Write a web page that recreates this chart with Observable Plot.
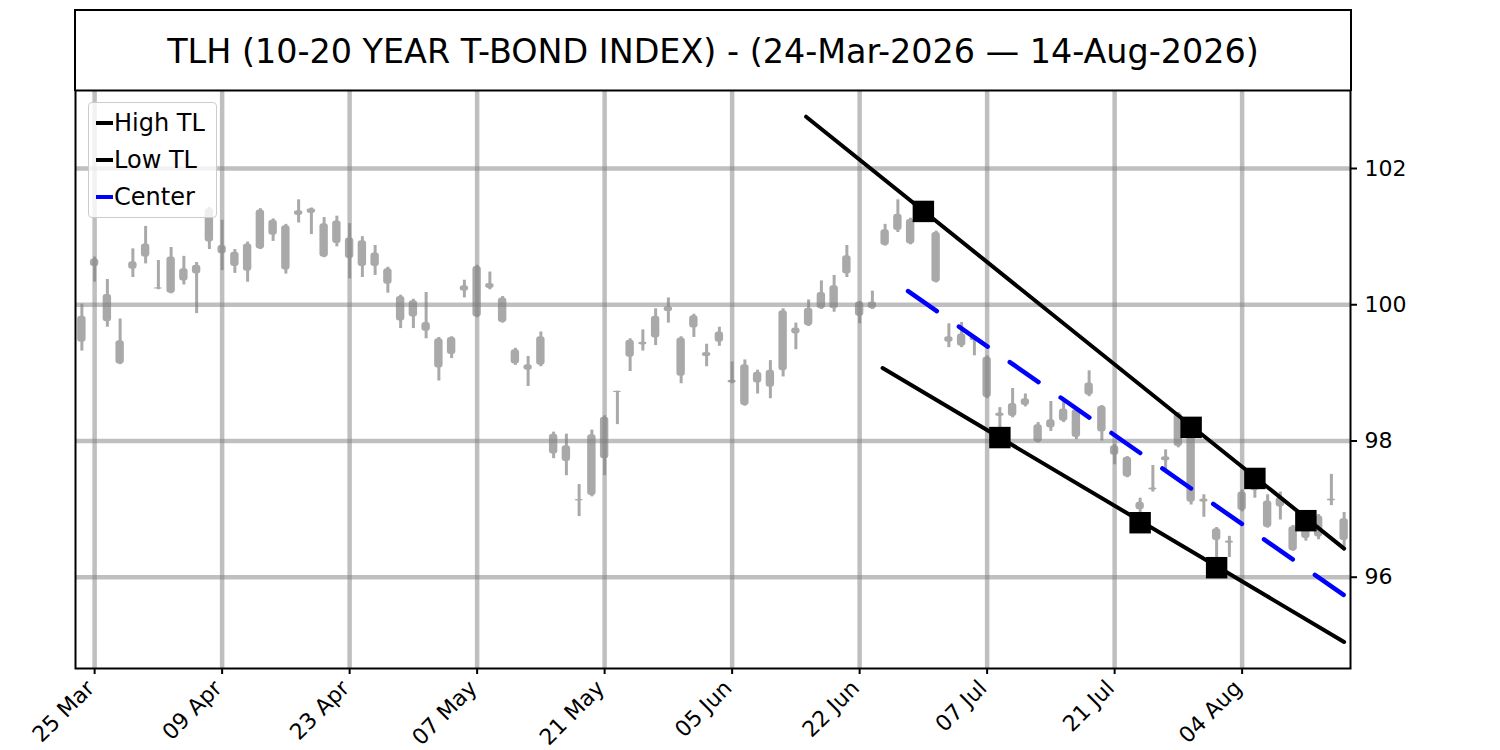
<!DOCTYPE html>
<html>
<head>
<meta charset="utf-8">
<script src="https://cdn.jsdelivr.net/npm/d3@7"></script>
<script src="https://cdn.jsdelivr.net/npm/@observablehq/plot@0.6"></script>
<style>
  html, body { margin: 0; padding: 0; background: white; }
  #wrap { position: relative; width: 1500px; height: 750px; font-family: "DejaVu Sans", sans-serif; }
  #chart { position: absolute; left: 0; top: 0; }
  #title {
    position: absolute; left: 74px; top: 9px; width: 1278px; height: 82px;
    box-sizing: border-box; border: 2px solid black; border-bottom: none;
    display: flex; align-items: center; justify-content: center;
    font-size: 33.4px; color: black; white-space: nowrap;
  }
  #legend {
    position: absolute; left: 88px; top: 102px; width: 129px; height: 116px;
    box-sizing: border-box; border: 1.5px solid #cccccc; border-radius: 4px;
    background: rgba(255,255,255,0.8);
  }
  .item { position: absolute; left: 0; height: 30px; display: flex; align-items: center; font-size: 24px; color: black; white-space: nowrap; }
  .handle { width: 17px; height: 4px; margin-left: 7px; margin-right: 1px; }
</style>
</head>
<body>
<div id="wrap">
  <div id="chart"></div>
  <div id="title"></div>
  <div id="legend"></div>
</div>
<script>
// ---- data ----
const titleText = "TLH (10-20 YEAR T-BOND INDEX) - (24-Mar-2026 \u2014 14-Aug-2026)";

const dates = [
  "2026-03-24","2026-03-25","2026-03-26","2026-03-27","2026-03-30","2026-03-31",
  "2026-04-01","2026-04-02","2026-04-06","2026-04-07","2026-04-08","2026-04-09","2026-04-10",
  "2026-04-13","2026-04-14","2026-04-15","2026-04-16","2026-04-17","2026-04-20","2026-04-21",
  "2026-04-22","2026-04-23","2026-04-24","2026-04-27","2026-04-28","2026-04-29","2026-04-30",
  "2026-05-01","2026-05-04","2026-05-05","2026-05-06","2026-05-07","2026-05-08","2026-05-11",
  "2026-05-12","2026-05-13","2026-05-14","2026-05-15","2026-05-18","2026-05-19","2026-05-20",
  "2026-05-21","2026-05-22","2026-05-26","2026-05-27","2026-05-28","2026-05-29",
  "2026-06-01","2026-06-02","2026-06-03","2026-06-04","2026-06-05","2026-06-08","2026-06-09",
  "2026-06-10","2026-06-11","2026-06-12","2026-06-15","2026-06-16","2026-06-17","2026-06-18",
  "2026-06-22","2026-06-23","2026-06-24","2026-06-25","2026-06-26","2026-06-29","2026-06-30",
  "2026-07-01","2026-07-02","2026-07-06","2026-07-07","2026-07-08","2026-07-09","2026-07-10",
  "2026-07-13","2026-07-14","2026-07-15","2026-07-16","2026-07-17","2026-07-20","2026-07-21",
  "2026-07-22","2026-07-23","2026-07-24","2026-07-27","2026-07-28","2026-07-29","2026-07-30",
  "2026-07-31","2026-08-03","2026-08-04","2026-08-05","2026-08-06","2026-08-07","2026-08-10",
  "2026-08-11","2026-08-12","2026-08-13","2026-08-14"
];

const open = [
  99.83,100.67,100.15,99.47,100.63,100.89,100.25,100.70,100.53,100.58,
  101.41,100.87,100.77,100.89,101.39,101.24,101.16,101.38,101.41,101.19,
  101.23,100.98,100.94,100.76,100.53,100.12,100.06,99.74,99.50,99.52,
  100.28,100.56,100.31,100.10,99.34,99.12,99.53,98.10,97.93,97.14,
  98.09,98.35,98.73,99.48,99.45,99.83,99.97,99.51,99.84,99.30,
  99.60,98.89,99.12,99.01,99.04,99.91,99.66,99.95,100.18,100.28,
  100.72,100.04,100.04,101.10,101.33,101.25,101.33,101.06,99.53,99.57,
  99.53,99.23,98.41,98.55,98.62,98.24,98.31,98.47,98.46,98.85,
  98.51,97.93,97.76,97.10,97.31,97.77,98.40,98.15,97.15,96.71,
  96.53,97.25,97.39,97.12,97.17,96.74,96.76,96.90,97.15,96.86
];
const close = [
  99.45,100.56,99.75,99.13,100.52,100.70,100.23,100.17,100.35,100.45,
  100.92,100.75,100.56,100.49,100.82,101.02,100.51,101.31,101.34,100.70,
  100.90,100.68,100.56,100.56,100.30,99.76,99.82,99.61,99.07,99.27,
  100.20,99.82,100.24,99.74,99.13,99.04,99.11,97.81,97.70,97.12,
  97.20,97.74,98.71,99.23,99.41,99.51,99.90,98.95,99.66,99.24,
  99.45,98.85,98.52,98.85,98.79,99.03,99.57,99.69,99.94,99.94,
  100.45,99.83,99.94,100.87,101.09,100.89,101.25,100.33,99.45,99.39,
  99.47,98.64,98.36,98.36,98.52,97.98,98.19,98.29,98.05,98.67,
  98.13,97.79,97.47,96.99,97.28,97.71,97.92,97.10,97.10,96.54,
  96.50,96.98,97.27,96.73,97.03,96.39,96.57,96.59,97.12,96.54
];
const high = [
  100.01,100.70,100.37,99.79,100.82,101.15,100.65,100.84,100.71,100.62,
  101.43,101.24,100.81,100.92,101.41,101.26,101.18,101.54,101.42,101.28,
  101.30,101.19,101.00,100.87,100.55,100.14,100.08,100.18,99.52,99.53,
  100.36,100.58,100.48,100.12,99.36,99.24,99.60,98.13,98.10,97.36,
  98.16,98.37,98.73,99.50,99.63,99.94,100.10,99.53,99.86,99.42,
  99.67,99.16,99.19,99.04,99.18,99.94,99.73,100.07,100.35,100.43,
  100.87,100.05,100.20,101.18,101.54,101.27,101.37,101.08,99.72,99.74,
  99.53,99.25,98.49,98.77,98.69,98.27,98.58,98.60,98.47,99.03,
  98.52,97.95,97.77,97.16,97.64,97.87,98.42,98.20,97.21,96.73,
  96.60,97.28,97.45,97.21,97.25,96.76,96.83,96.92,97.51,96.95
];
const low = [
  99.32,100.33,99.67,99.12,100.40,100.60,100.22,100.16,100.29,99.87,
  100.81,100.50,100.46,100.33,100.81,100.93,100.45,101.20,101.03,100.69,
  100.85,100.38,100.40,100.43,100.17,99.65,99.65,99.50,98.88,99.21,
  100.10,99.81,100.22,99.73,99.11,98.80,99.09,97.74,97.49,96.89,
  97.18,97.49,98.24,99.02,99.32,99.40,99.73,98.84,99.52,99.09,
  99.39,98.84,98.51,98.69,98.62,98.94,99.34,99.68,99.93,99.89,
  100.40,99.72,99.93,100.86,101.06,100.88,101.22,100.32,99.37,99.37,
  99.25,98.62,98.05,98.34,98.50,97.97,98.14,98.27,98.02,98.65,
  98.00,97.65,97.46,96.80,97.25,97.57,97.90,97.06,96.88,96.14,
  96.29,96.96,97.16,96.72,96.84,96.38,96.53,96.55,97.05,96.44
];

// x tick dates and labels (every 10 trading days)
const tickDates  = ["2026-03-25","2026-04-09","2026-04-23","2026-05-07","2026-05-21","2026-06-05","2026-06-22","2026-07-07","2026-07-21","2026-08-04"];
const tickLabels = ["25 Mar","09 Apr","23 Apr","07 May","21 May","05 Jun","22 Jun","07 Jul","21 Jul","04 Aug"];
const yTicks = [96, 98, 100, 102];

// trend lines (x in trading-day index)
const highTLx = [56.8, 99];   const highTLy = [102.76, 96.42];
const lowTLx  = [62.8, 99];   const lowTLy  = [99.07, 95.05];
const centerX = [64.8, 99];   const centerY = [100.20, 95.735];

// pivot markers
const highPivotDates = ["2026-06-29","2026-07-29","2026-08-05","2026-08-11"];
const highPivotVals  = [101.37, 98.20, 97.45, 96.83];
const lowPivotDates  = ["2026-07-08","2026-07-23","2026-07-31"];
const lowPivotVals   = [98.05, 96.80, 96.14];

const legendNames  = ["High TL", "Low TL", "Center"];
const legendColors = ["black", "black", "blue"];

// ---- build ----
const candles = dates.map((d, i) => ({i, date: d, open: open[i], close: close[i], high: high[i], low: low[i]}));
const idx = d => dates.indexOf(d);
const tickIdx = tickDates.map(idx);
const labelOf = new Map(tickIdx.map((t, k) => [t, tickLabels[k]]));
const lineRows = (xs, ys) => xs.map((x, k) => ({x, y: ys[k]}));
const pivots = highPivotDates.map((d, k) => ({x: idx(d), y: highPivotVals[k]}))
  .concat(lowPivotDates.map((d, k) => ({x: idx(d), y: lowPivotVals[k]})));

const candleColor = "#a9a9a9";

const chart = Plot.plot({
  width: 1500, height: 750,
  marginLeft: 75, marginRight: 150, marginTop: 90, marginBottom: 82,
  x: {type: "linear", domain: [-0.5, 99.5], axis: null},
  y: {domain: [94.66, 103.145], axis: null},
  style: {fontFamily: "DejaVu Sans", background: "white", color: "black"},
  marks: [
    Plot.ruleX(candles, {x: "i", y1: "low", y2: "high", stroke: candleColor, strokeWidth: 3}),
    Plot.rect(candles, {x1: d => d.i - 0.33, x2: d => d.i + 0.33, y1: "open", y2: "close", fill: candleColor, rx: 3}),
    Plot.gridX(tickIdx, {stroke: "gray", strokeOpacity: 0.5, strokeWidth: 4.5}),
    Plot.gridY(yTicks, {stroke: "gray", strokeOpacity: 0.5, strokeWidth: 4.5}),
    Plot.line(lineRows(highTLx, highTLy), {x: "x", y: "y", stroke: "black", strokeWidth: 4}),
    Plot.line(lineRows(lowTLx, lowTLy), {x: "x", y: "y", stroke: "black", strokeWidth: 4}),
    Plot.line(lineRows(centerX, centerY), {x: "x", y: "y", stroke: "blue", strokeWidth: 4.5, strokeDasharray: "35,27"}),
    Plot.dot(pivots, {x: "x", y: "y", symbol: "square", r: 12.1, fill: "black", stroke: "none"}),
    Plot.frame({stroke: "black", strokeWidth: 2}),
    // x tick marks
    Plot.axisX({ticks: tickIdx, tickFormat: () => "", tickSize: 6, strokeWidth: 2, label: null}),
    // x tick labels (rotated)
    Plot.axisX({ticks: tickIdx, tickFormat: d => labelOf.get(d), tickRotate: -45, fontSize: 22, tickSize: 0, tickPadding: 13, dx: -4, dy: 3, label: null}),
    Plot.axisY({anchor: "right", ticks: yTicks, tickFormat: d => String(d), fontSize: 22, tickSize: 6, tickPadding: 8, strokeWidth: 2, label: null})
  ]
});
document.getElementById("chart").appendChild(chart);

document.getElementById("title").textContent = titleText;
const legend = document.getElementById("legend");
legendNames.forEach((name, k) => {
  const item = document.createElement("div");
  item.className = "item";
  item.style.top = (5 + k * 37) + "px";
  const h = document.createElement("div");
  h.className = "handle";
  h.style.background = legendColors[k];
  const t = document.createElement("span");
  t.textContent = name;
  item.appendChild(h); item.appendChild(t);
  legend.appendChild(item);
});
</script>
</body>
</html>
